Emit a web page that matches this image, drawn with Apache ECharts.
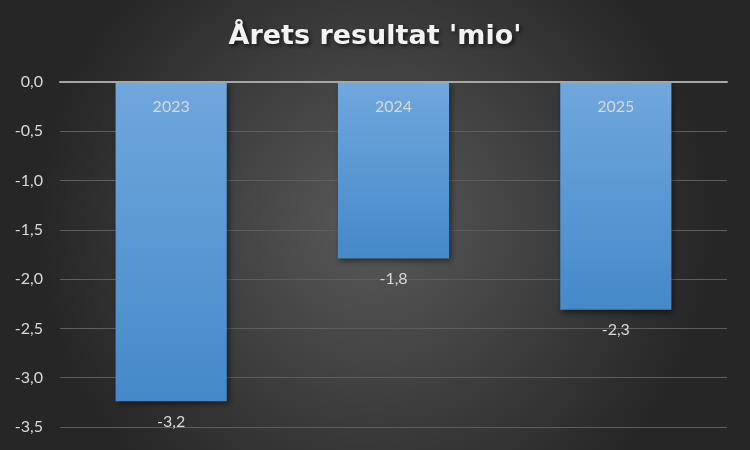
<!DOCTYPE html>
<html>
<head>
<meta charset="utf-8">
<script src="https://cdn.jsdelivr.net/npm/echarts@6/dist/echarts.min.js"></script>
<style>
html,body{margin:0;padding:0;background:#262626;}
#chart{width:750px;height:450px;}
</style>
</head>
<body>
<div id="chart"></div>
<script>
const titleText = "Årets resultat 'mio'";
const categories = ['2023', '2024', '2025'];
const values = [-3.24, -1.79, -2.31];
const yMin = -3.5, yMax = 0, yStep = 0.5;

const fmt = v => v.toFixed(1).replace('.', ',');
const fontFamily = 'Lato, "Open Sans", sans-serif';

const chart = echarts.init(document.getElementById('chart'));
chart.setOption({
  backgroundColor: {
    type: 'radial', x: 0.5, y: 0.5, r: 0.75,
    colorStops: [
      { offset: 0, color: '#595959' },
      { offset: 1, color: '#262626' }
    ]
  },
  title: {
    text: titleText,
    left: 'center',
    top: 18,
    textStyle: {
      color: '#f2f2f2', fontSize: 27, fontWeight: 'bold', fontFamily: '"DejaVu Sans", "Open Sans", sans-serif',
      textShadowColor: 'rgba(0,0,0,0.6)', textShadowBlur: 4, textShadowOffsetX: 2, textShadowOffsetY: 2
    }
  },
  grid: { left: 60, right: 23, top: 82, bottom: 23, containLabel: false },
  xAxis: {
    type: 'category',
    data: categories,
    position: 'top',
    z: 10,
    axisLine: { show: true, lineStyle: { color: '#a6a6a6', width: 2 } },
    axisTick: { show: false },
    axisLabel: { inside: true, margin: 17, color: '#d9d9d9', fontSize: 16, fontFamily }
  },
  yAxis: {
    type: 'value',
    min: yMin, max: yMax, interval: yStep,
    axisLine: { show: false },
    axisTick: { show: false },
    splitLine: { show: true, lineStyle: { color: '#5e5e5e', width: 1 } },
    axisLabel: { color: '#d9d9d9', fontSize: 16, fontFamily, margin: 17, formatter: v => fmt(v) }
  },
  series: [{
    type: 'bar',
    data: values,
    barWidth: '50%',
    itemStyle: {
      color: {
        type: 'linear', x: 0, y: 0, x2: 0, y2: 1,
        colorStops: [
          { offset: 0, color: '#70a7dd' },
          { offset: 1, color: '#4589c9' }
        ]
      },
      shadowColor: 'rgba(0,0,0,0.5)', shadowBlur: 6, shadowOffsetX: 2, shadowOffsetY: 3
    },
    label: {
      show: true, position: 'bottom', distance: 12,
      color: '#d9d9d9', fontSize: 16, fontFamily,
      formatter: p => fmt(p.value)
    }
  }]
});
</script>
</body>
</html>
